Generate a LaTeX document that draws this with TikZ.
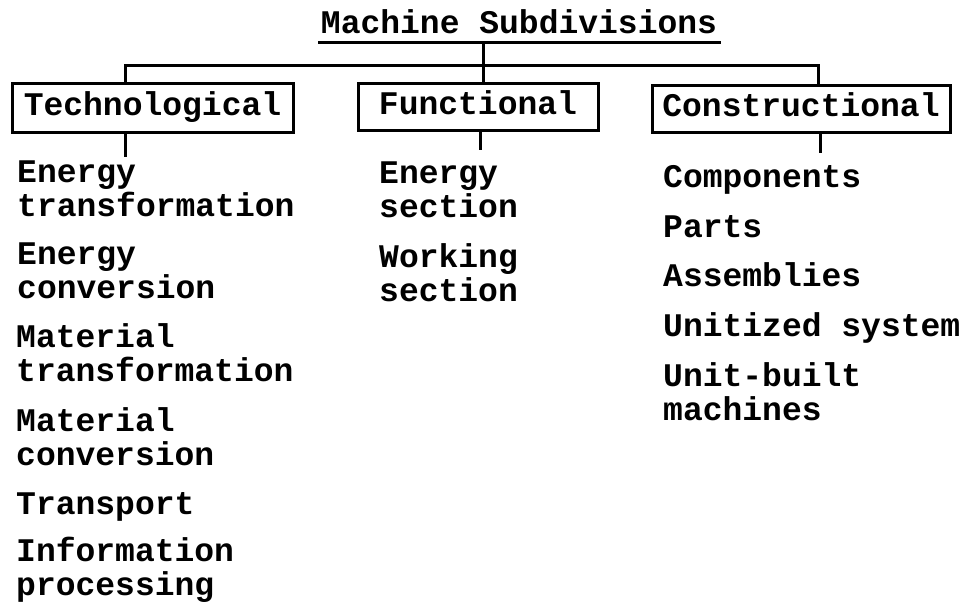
\documentclass[tikz,border=0pt]{standalone}
\usepackage{fontspec}
\setmonofont{Liberation Mono}
\begin{document}
\begin{tikzpicture}[x=1pt,y=-1pt,
  tw/.style={font=\ttfamily\bfseries\fontsize{33}{34}\selectfont},
  item/.style={tw,anchor=base west,inner sep=0pt,align=left},
  catbox/.style={tw,draw,line width=3pt,inner sep=0pt,text height=23pt,text depth=8pt},
  conn/.style={line width=3pt}]
\useasboundingbox (0,0) rectangle (963,605);
% title
\node[tw,inner sep=0pt,anchor=base] (title) at (519,33) {Machine Subdivisions};
\coordinate (ulL) at (318,42);
\coordinate (ulR) at (721,42);
\draw[conn] (ulL) -- (ulR);
% category boxes
\node[catbox,minimum width=281pt,minimum height=49pt] (tech) at (152.5,107.5) {Technological};
\node[catbox,minimum width=240pt,minimum height=47pt] (func) at (478,106.5) {Functional};
\node[catbox,minimum width=298pt,minimum height=47pt] (constr) at (801,108.5) {Constructional};
% connectors
\coordinate (ulM) at (483,42);
\coordinate (hub) at (483,65);
\coordinate (jl) at (125,65);
\coordinate (jr) at (818,65);
\draw[conn] (ulM) -- (hub |- func.north);
\draw[conn] (tech.north -| jl) -- (jl) -- (jr) -- (constr.north -| jr);
\coordinate (tl) at (125,157);
\coordinate (fl) at (480,150);
\coordinate (cl) at (820,153);
\draw[conn] (tech.south -| tl) -- (tl);
\draw[conn] (func.south -| fl) -- (fl);
\draw[conn] (constr.south -| cl) -- (cl);
% technological items (position = baseline of last line)
\node[item] (t1) at (17,216) {Energy\\transformation};
\node[item] (t2) at (17,298) {Energy\\conversion};
\node[item] (t3) at (16,381) {Material\\transformation};
\node[item] (t4) at (16,465) {Material\\conversion};
\node[item] (t5) at (16,514) {Transport};
\node[item] (t6) at (16,595) {Information\\processing};
% functional items
\node[item] (f1) at (379,217) {Energy\\section};
\node[item] (f2) at (379,301) {Working\\section};
% constructional items
\node[item] (c1) at (663,187) {Components};
\node[item] (c2) at (663,237) {Parts};
\node[item] (c3) at (663,286) {Assemblies};
\node[item] (c4) at (663,336) {Unitized system};
\node[item] (c5) at (663,420) {Unit-built\\machines};
\end{tikzpicture}
\end{document}
